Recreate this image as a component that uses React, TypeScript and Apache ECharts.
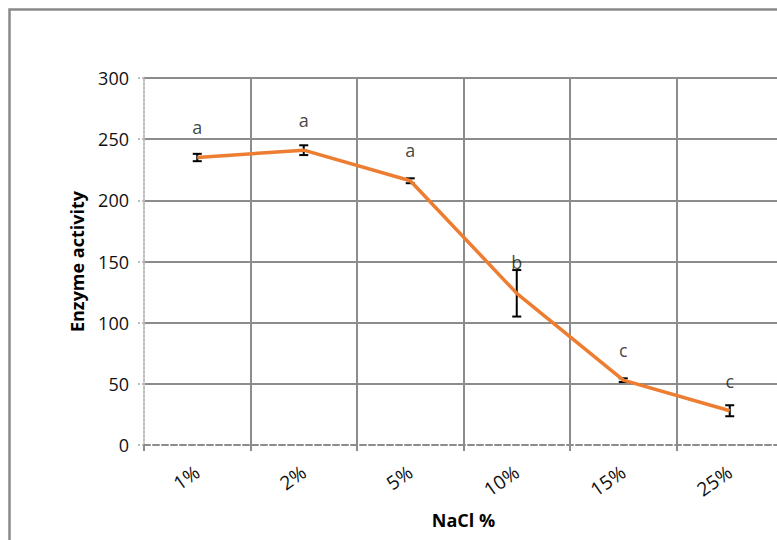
import React, { useEffect, useRef } from "react";
import * as echarts from "echarts";

// NaCl concentration groups and measured enzyme activity
const categories = ["1%", "2%", "5%", "10%", "15%", "25%"];
const activity = [235, 241, 216, 124, 53, 28];
const errors = [3, 4, 2, 19, 1.5, 4.5];
// significance letters and the activity level at which each is written
const groupLetters = ["a", "a", "a", "b", "c", "c"];
const letterLevels = [260, 266, 241, 150, 78, 52];

const FONT = "'Open Sans', 'Noto Sans', sans-serif";

export default function App() {
  const ref = useRef<HTMLDivElement>(null);

  useEffect(() => {
    if (!ref.current) return;
    const chart = echarts.init(ref.current, null, { renderer: "svg" });

    const errorData = categories.map((_, i) => [i, activity[i] - errors[i], activity[i] + errors[i]]);
    const letterData = categories.map((_, i) => [i, letterLevels[i]]);

    chart.setOption({
      animation: false,
      backgroundColor: "#ffffff",
      graphic: [
        {
          type: "rect",
          left: 7,
          top: 7,
          z: -10,
          shape: { width: 900, height: 700 },
          style: { fill: "none", stroke: "#8a8a8a", lineWidth: 2.5 },
        },
      ],
      grid: {
        left: 144,
        top: 78,
        bottom: 95,
        width: 639,
        containLabel: false,
        outerBoundsMode: "none",
      },
      xAxis: {
        type: "category",
        data: categories,
        boundaryGap: true,
        name: "NaCl %",
        nameLocation: "middle",
        nameGap: 66,
        nameTextStyle: { fontFamily: FONT, fontWeight: "bold", fontSize: 18, color: "#000" },
        axisLine: { show: true, lineStyle: { color: "#8c8c8c", width: 2, type: [6, 3] } },
        axisTick: { show: true, length: 6, lineStyle: { color: "#8c8c8c", width: 2 } },
        axisLabel: { rotate: 35, margin: 25, fontFamily: FONT, fontSize: 19, color: "#111" },
        splitLine: { show: true, showMinLine: false, lineStyle: { color: "#8c8c8c", width: 2 } },
      },
      yAxis: {
        type: "value",
        min: 0,
        max: 300,
        interval: 50,
        name: "Enzyme activity",
        nameLocation: "middle",
        nameGap: 58,
        nameTextStyle: { fontFamily: FONT, fontWeight: "bold", fontSize: 18, color: "#000" },
        axisLine: { show: true, lineStyle: { color: "#bdbdbd", width: 2, type: "dotted" } },
        axisTick: { show: true, length: 6, lineStyle: { color: "#bdbdbd", width: 2, type: "dotted" } },
        axisLabel: { margin: 15, fontFamily: FONT, fontSize: 18, color: "#111" },
        splitLine: { show: true, showMinLine: false, lineStyle: { color: "#8c8c8c", width: 2 } },
      },
      series: [
        {
          type: "custom",
          name: "error",
          z: 3,
          data: errorData,
          renderItem: (params: any, api: any) => {
            const x = api.value(0);
            const lo = api.coord([x, api.value(1)]);
            const hi = api.coord([x, api.value(2)]);
            const half = 4.5;
            const style = { stroke: "#000", lineWidth: 2 };
            return {
              type: "group",
              children: [
                { type: "line", shape: { x1: lo[0], y1: lo[1], x2: hi[0], y2: hi[1] }, style },
                { type: "line", shape: { x1: lo[0] - half, y1: lo[1], x2: lo[0] + half, y2: lo[1] }, style },
                { type: "line", shape: { x1: hi[0] - half, y1: hi[1], x2: hi[0] + half, y2: hi[1] }, style },
              ],
            };
          },
        },
        {
          type: "line",
          name: "Enzyme activity",
          z: 4,
          data: activity,
          symbol: "none",
          lineStyle: { color: "#ED7D31", width: 3.5 },
        },
        {
          type: "scatter",
          name: "letters",
          z: 5,
          data: letterData,
          symbolSize: 0,
          label: {
            show: true,
            position: "inside",
            formatter: (p: any) => groupLetters[p.dataIndex],
            fontFamily: FONT,
            fontSize: 18,
            color: "#111",
          },
        },
      ],
    });

    return () => chart.dispose();
  }, []);

  return (
    <div
      ref={ref}
      style={{ position: "absolute", left: 0, top: 0, width: 777, height: 540 }}
    />
  );
}
